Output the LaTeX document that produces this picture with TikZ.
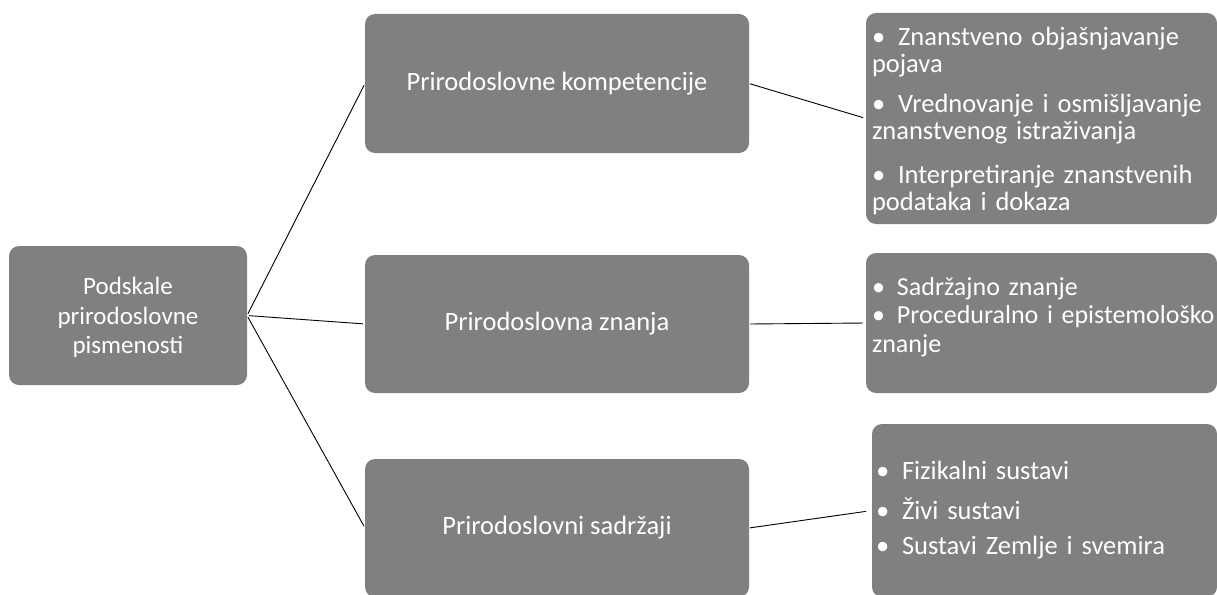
\documentclass[tikz,border=0pt]{standalone}
\usepackage{fontspec}
\setmainfont{Carlito}
\definecolor{boxgray}{RGB}{128,128,128}
\newcommand{\mybul}{\makebox[26pt][l]{•}}
\newcommand{\mybulb}{\makebox[25pt][l]{•}}
\begin{document}
\begin{tikzpicture}[x=1pt,y=-1pt,
  gbox/.style={fill=boxgray, draw=none, rounded corners=10pt, text=white,
    font=\fontsize{26.5}{30}\selectfont, inner sep=0pt, outer sep=0pt},
  listbox/.style={gbox, align=left, inner xsep=6pt, font=\fontsize{26.5}{27.5}\selectfont},
  link/.style={draw=black, line width=0.9pt}
]
\useasboundingbox (0,0) rectangle (1217,594);
\clip (0,0) rectangle (1217,594);
% root
\node[gbox, minimum width=238pt, minimum height=139pt, align=center,
  font=\fontsize{25}{29.5}\selectfont] (root) at (128,315.5)
  {\rule{0pt}{22pt}Podskale\\prirodoslovne\\pismenosti};
% middle column
\node[gbox, minimum width=384pt, minimum height=139pt] (m1) at (557,83.5) {Prirodoslovne kompetencije};
\node[gbox, minimum width=384pt, minimum height=138pt] (m2) at (557,324) {Prirodoslovna znanja};
\node[gbox, minimum width=384pt, minimum height=138pt] (m3) at (557,528) {Prirodoslovni sadržaji};
% right column
\node[listbox, text width=339pt, minimum height=211pt] (rA) at (1041.5,118.5)
  {\mbox{\rule{0pt}{23.5pt}\mybul Znanstveno objašnjavanje}\\ pojava\\[12pt]
   \mbox{\mybul Vrednovanje i osmišljavanje}\\ znanstvenog istraživanja\\[16pt]
   \mbox{\mybul Interpretiranje znanstvenih}\\ podataka i dokaza};
\node[listbox, text width=339pt, minimum height=140pt,
  font=\fontsize{26}{28.5}\selectfont] (rB) at (1041.5,323)
  {\mbox{\mybulb Sadržajno znanje}\\
   \mbox{\mybulb Proceduralno i epistemološko}\\ znanje\rule[-17pt]{0pt}{1pt}};
\node[listbox, inner xsep=4pt, text width=337pt, minimum height=173pt] (rC) at (1044.5,510.5)
  {\mbox{\mybul Fizikalni sustavi}\\[12pt]
   \mbox{\mybul Živi sustavi}\\[8pt]
   \mbox{\mybul Sustavi Zemlje i svemira}};
% connectors
\draw[link, shorten <=2pt, shorten >=2pt] (root.east) -- (m1.west);
\draw[link, shorten <=2pt, shorten >=2pt] (root.east) -- (m2.west);
\draw[link, shorten <=2pt, shorten >=2pt] (root.east) -- (m3.west);
\draw[link, shorten <=1pt, shorten >=3pt] (m1.east) -- (rA.west);
\draw[link, shorten <=1pt, shorten >=3pt] (m2.east) -- (rB.west);
\draw[link, shorten <=1pt, shorten >=6pt] (m3.east) -- (rC.west);
\end{tikzpicture}
\end{document}
